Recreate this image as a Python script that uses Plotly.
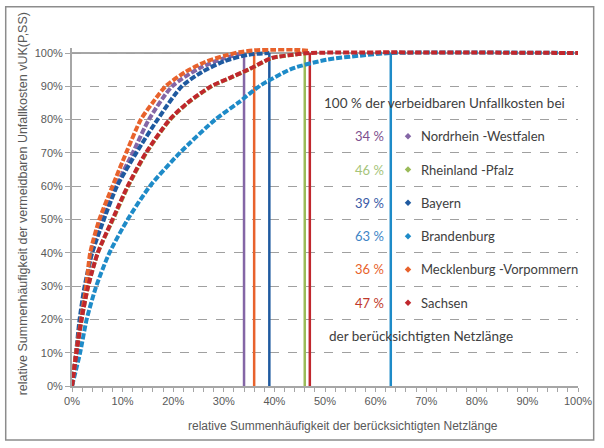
import plotly.graph_objects as go

# series: x = relative Summenhäufigkeit der Netzlänge (%), y = relative Summenhäufigkeit vUK (%)
nrw_x = [0, 0.8, 1.8, 2.8, 3.8, 5.8, 8.7, 12.0, 15.2, 19.8, 25.0, 29.6, 34]
nrw_y = [0, 10, 20, 30, 40, 50, 60, 70, 80, 90, 95.3, 98.2, 100]

rlp_x = [0, 0.9, 1.9, 3.2, 5.1, 8.1, 11.1, 14.7, 19.4, 22.9, 27.6, 31.1, 34.9, 39.6, 43.8, 46]
rlp_y = [0, 10, 20, 30, 40, 50, 60, 70, 80, 85, 90, 92.4, 95, 98.5, 99.5, 100]

by_x = [0, 0.8, 1.5, 2.5, 4.0, 6.3, 8.9, 12.7, 16.9, 21.7, 25.7, 30.2, 35, 39]
by_y = [0, 10, 20, 30, 40, 50, 60, 70, 80, 90, 94.3, 97.6, 99.5, 100]

bb_x = [0, 1.6, 2.9, 4.8, 7.4, 11.0, 15.4, 21.3, 28.3, 32.8, 37.0, 43.5, 50.4, 56.9, 63, 100]
bb_y = [0, 10, 20, 30, 40, 50, 60, 70, 80, 85, 90, 95.3, 98, 99.2, 100, 100]

mv_x = [0, 0.8, 1.8, 2.8, 3.6, 5.4, 8.0, 10.7, 13.6, 15.9, 18.5, 22.4, 26.3, 30.2, 33, 36, 40, 44, 47]
mv_y = [0, 10, 20, 30, 40, 50, 60, 70, 80, 85, 90, 94.3, 97.3, 99.2, 100.2, 100.8, 101, 101, 100.6]

sn_x = [0, 0.9, 1.9, 3.2, 5.1, 8.0, 11.0, 14.6, 19.3, 22.8, 27.5, 31.0, 34.8, 39.5, 43.8, 47, 100]
sn_y = [0, 10, 20, 30, 40, 50, 60, 70, 80, 85, 90, 92.4, 95, 98.5, 99.5, 100, 100]

states = ["Nordrhein -Westfalen", "Rheinland -Pfalz", "Bayern", "Brandenburg",
          "Mecklenburg -Vorpommern", "Sachsen"]
shares = [34, 46, 39, 63, 36, 47]  # % der Netzlänge für 100 % vUK
line_colors = ["#8466A6", "#9BBB59", "#1F5AA0", "#1E8BC8", "#E8622C", "#C0272D"]
text_colors = ["#7D4F8E", "#A6C47A", "#3A5AA6", "#3D85C6", "#E8622C", "#C0392B"]

series = [(nrw_x, nrw_y), (rlp_x, rlp_y), (by_x, by_y), (bb_x, bb_y), (mv_x, mv_y), (sn_x, sn_y)]

fig = go.Figure()

# vertical markers
for s, c in zip(shares, line_colors):
    fig.add_trace(go.Scatter(x=[s, s], y=[0, 100], mode="lines",
                             line=dict(color=c, width=2.5), hoverinfo="skip"))

fig.add_shape(type="line", xref="x", yref="y", x0=0, x1=100, y0=100, y1=100,
              line=dict(color="#A6A6A6", width=2), layer="below")

for (xs, ys), c, name in zip(series, line_colors, states):
    fig.add_trace(go.Scatter(x=xs, y=ys, mode="lines", name=name,
                             line=dict(color=c, width=4, dash="6px,2px", shape="spline",
                                       smoothing=0.7)))

# legend block
row_y = [75, 65, 55, 45, 35, 25]
fig.add_trace(go.Scatter(x=[66.4] * 6, y=row_y, mode="markers",
                         marker=dict(symbol="diamond", size=5, color=line_colors),
                         hoverinfo="skip"))
txt_font = dict(family="Lato", size=13, color="#404040")
fig.add_annotation(x=49.4, y=85, xref="x", yref="y", text="100 % der verbeidbaren Unfallkosten bei",
                   showarrow=False, xanchor="left", font=dict(family="Lato", size=13.5, color="#404040"))
fig.add_annotation(x=50.4, y=15, xref="x", yref="y", text="der berücksichtigten Netzlänge",
                   showarrow=False, xanchor="left", font=dict(family="Lato", size=13.5, color="#404040"))
for s, name, c, yy in zip(shares, states, text_colors, row_y):
    fig.add_annotation(x=62.0, y=yy, xref="x", yref="y", text=f"{s} %", showarrow=False,
                       xanchor="right", font=dict(family="Lato", size=13, color=c))
    fig.add_annotation(x=68.6, y=yy, xref="x", yref="y", text=name, showarrow=False,
                       xanchor="left", font=txt_font)

# axis titles
ax_font = dict(family="Liberation Sans", size=11, color="#595959")
fig.add_annotation(x=53.5, y=-0.146, xref="x", yref="paper",
                   text="relative Summenhäufigkeit der berücksichtigten Netzlänge",
                   showarrow=False, font=dict(family="Liberation Sans", size=12, color="#595959"))
fig.add_annotation(x=-0.1156, y=0.539, xref="paper", yref="paper", textangle=-90,
                   text="relative Summenhäufigkeit der vermeidbaren Unfallkosten vUK(P,SS)",
                   showarrow=False, font=dict(family="Liberation Sans", size=12.5, color="#595959"))

# outer frame
fig.add_shape(type="rect", xref="paper", yref="paper", x0=-0.131, x1=1.031, y0=-0.160, y1=1.122,
              line=dict(color="#8C8C8C", width=1.5))

fig.update_layout(
    width=604, height=448,
    margin=dict(l=72, r=20, t=48, b=62),
    paper_bgcolor="white", plot_bgcolor="white",
    showlegend=False,
    font=ax_font,
)
fig.update_xaxes(range=[0, 100], tickvals=list(range(0, 101, 10)),
                 ticktext=[f"{v}%" for v in range(0, 101, 10)],
                 showgrid=False, zeroline=False, showline=True, linecolor="#A6A6A6", linewidth=2,
                 ticks="outside", ticklen=4, tickcolor="#A6A6A6",
                 minor=dict(dtick=2, ticks="outside", ticklen=4, tickcolor="#A6A6A6", showgrid=False))
fig.update_yaxes(range=[0, 101.5], tickvals=list(range(0, 101, 10)),
                 ticktext=[f"{v}%" for v in range(0, 101, 10)],
                 showgrid=True, gridcolor="#A0A0A0", griddash="dash", gridwidth=1,
                 zeroline=False, showline=True, linecolor="#A6A6A6", linewidth=2,
                 ticks="outside", ticklen=5, tickcolor="#A6A6A6")

fig.write_html("out.html", config={"displayModeBar": False},
               post_script="document.body.style.margin='0';")
